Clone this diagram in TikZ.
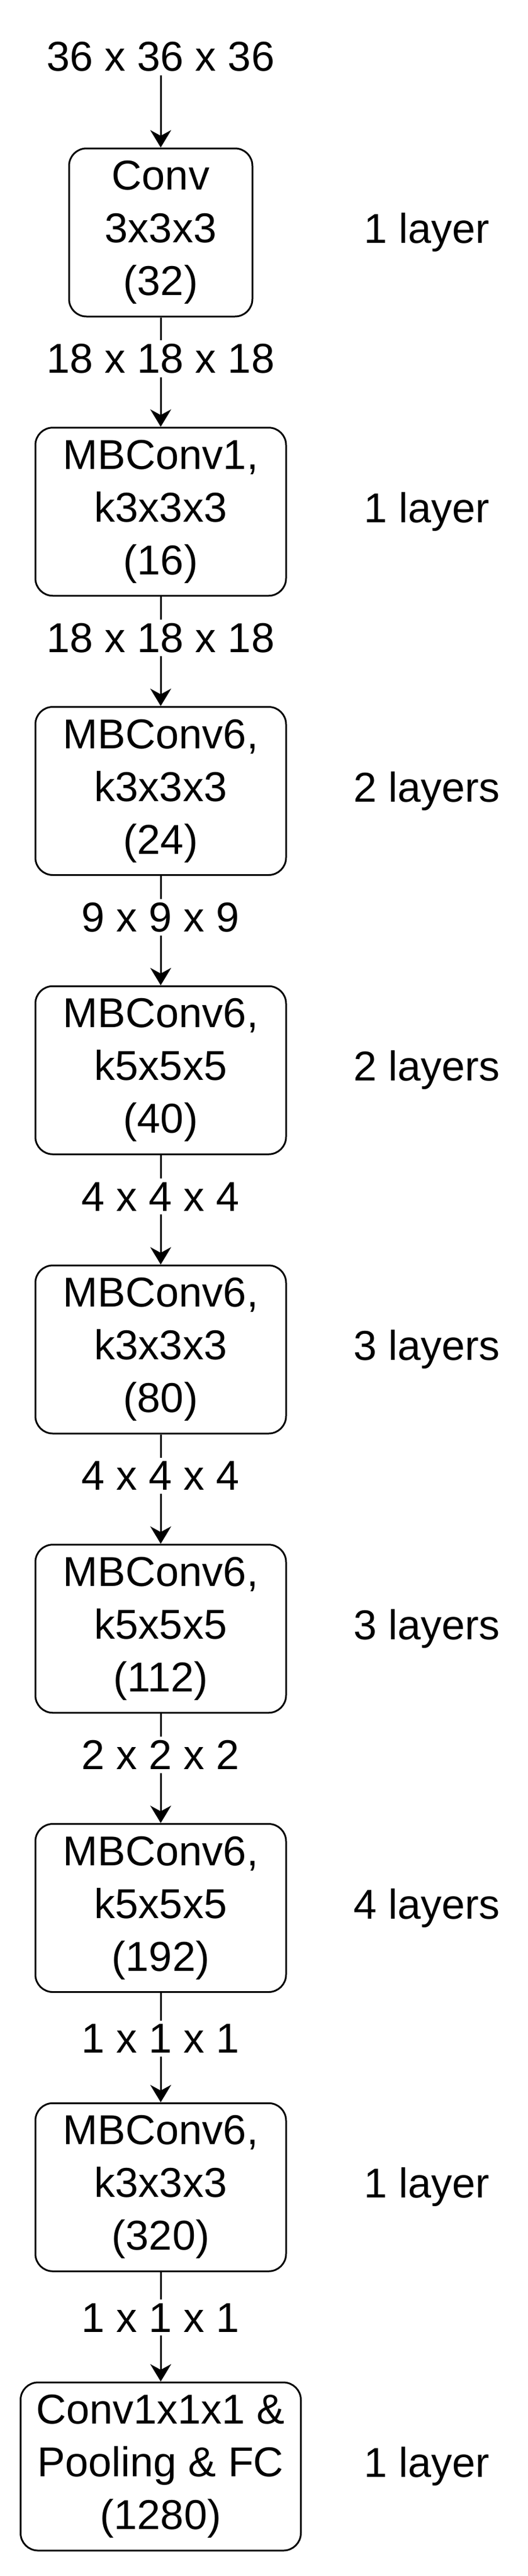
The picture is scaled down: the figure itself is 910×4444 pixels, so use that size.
\documentclass[tikz,border=0pt]{standalone}
\usepackage{fontspec}
\setmainfont{Liberation Sans}
\usetikzlibrary{arrows.meta}
\begin{document}
\begin{tikzpicture}[x=1pt,y=-1pt,
  box/.style={draw,line width=3pt,rounded corners=30pt,minimum height=290pt,align=center,inner sep=0pt,font=\fontsize{72}{91}\selectfont},
  lbl/.style={align=center,inner sep=6pt,font=\fontsize{72}{86}\selectfont,fill=white},
  arr/.style={line width=3pt,-{Stealth[length=30pt,width=36pt]}},
  ln/.style={line width=3pt}]
\useasboundingbox (0,0) rectangle (910,4444);
\def\p{481.75}
\node[lbl] (in) at (277,98) {36 x 36 x 36};
\node[box,minimum width=316pt] (b1) at (277,401) {Conv\\3x3x3\\(32)};
\node[box,minimum width=432pt] (b2) at (277,401+\p) {MBConv1,\\k3x3x3\\(16)};
\node[box,minimum width=432pt] (b3) at (277,401+2*\p) {MBConv6,\\k3x3x3\\(24)};
\node[box,minimum width=432pt] (b4) at (277,401+3*\p) {MBConv6,\\k5x5x5\\(40)};
\node[box,minimum width=432pt] (b5) at (277,401+4*\p) {MBConv6,\\k3x3x3\\(80)};
\node[box,minimum width=432pt] (b6) at (277,401+5*\p) {MBConv6,\\k5x5x5\\(112)};
\node[box,minimum width=432pt] (b7) at (277,401+6*\p) {MBConv6,\\k5x5x5\\(192)};
\node[box,minimum width=432pt] (b8) at (277,401+7*\p) {MBConv6,\\k3x3x3\\(320)};
\node[box,minimum width=483pt] (b9) at (277,401+8*\p) {Conv1x1x1 \&\\Pooling \& FC\\(1280)};
\node[lbl] (l1) at (277,619) {18 x 18 x 18};
\node[lbl] (l2) at (277,619+\p) {18 x 18 x 18};
\node[lbl] (l3) at (277,619+2*\p) {9 x 9 x 9};
\node[lbl] (l4) at (277,619+3*\p) {4 x 4 x 4};
\node[lbl] (l5) at (277,619+4*\p) {4 x 4 x 4};
\node[lbl] (l6) at (277,619+5*\p) {2 x 2 x 2};
\node[lbl] (l7) at (277,626+6*\p) {1 x 1 x 1};
\node[lbl] (l8) at (277,626+7*\p) {1 x 1 x 1};
\draw[arr] (in) -- (b1);
\foreach \a/\l/\b in {b1/l1/b2,b2/l2/b3,b3/l3/b4,b4/l4/b5,b5/l5/b6,b6/l6/b7,b7/l7/b8,b8/l8/b9}{
  \draw[ln] (\a) -- (\l);
  \draw[arr] (\l) -- (\b);
}
\foreach \i/\t in {1/1 layer,2/1 layer,3/2 layers,4/2 layers,5/3 layers,6/3 layers,7/4 layers,8/1 layer,9/1 layer}{
  \node[lbl,fill=none] (r\i) at (736,401+\i*\p-\p) {\t};
}
\end{tikzpicture}
\end{document}
